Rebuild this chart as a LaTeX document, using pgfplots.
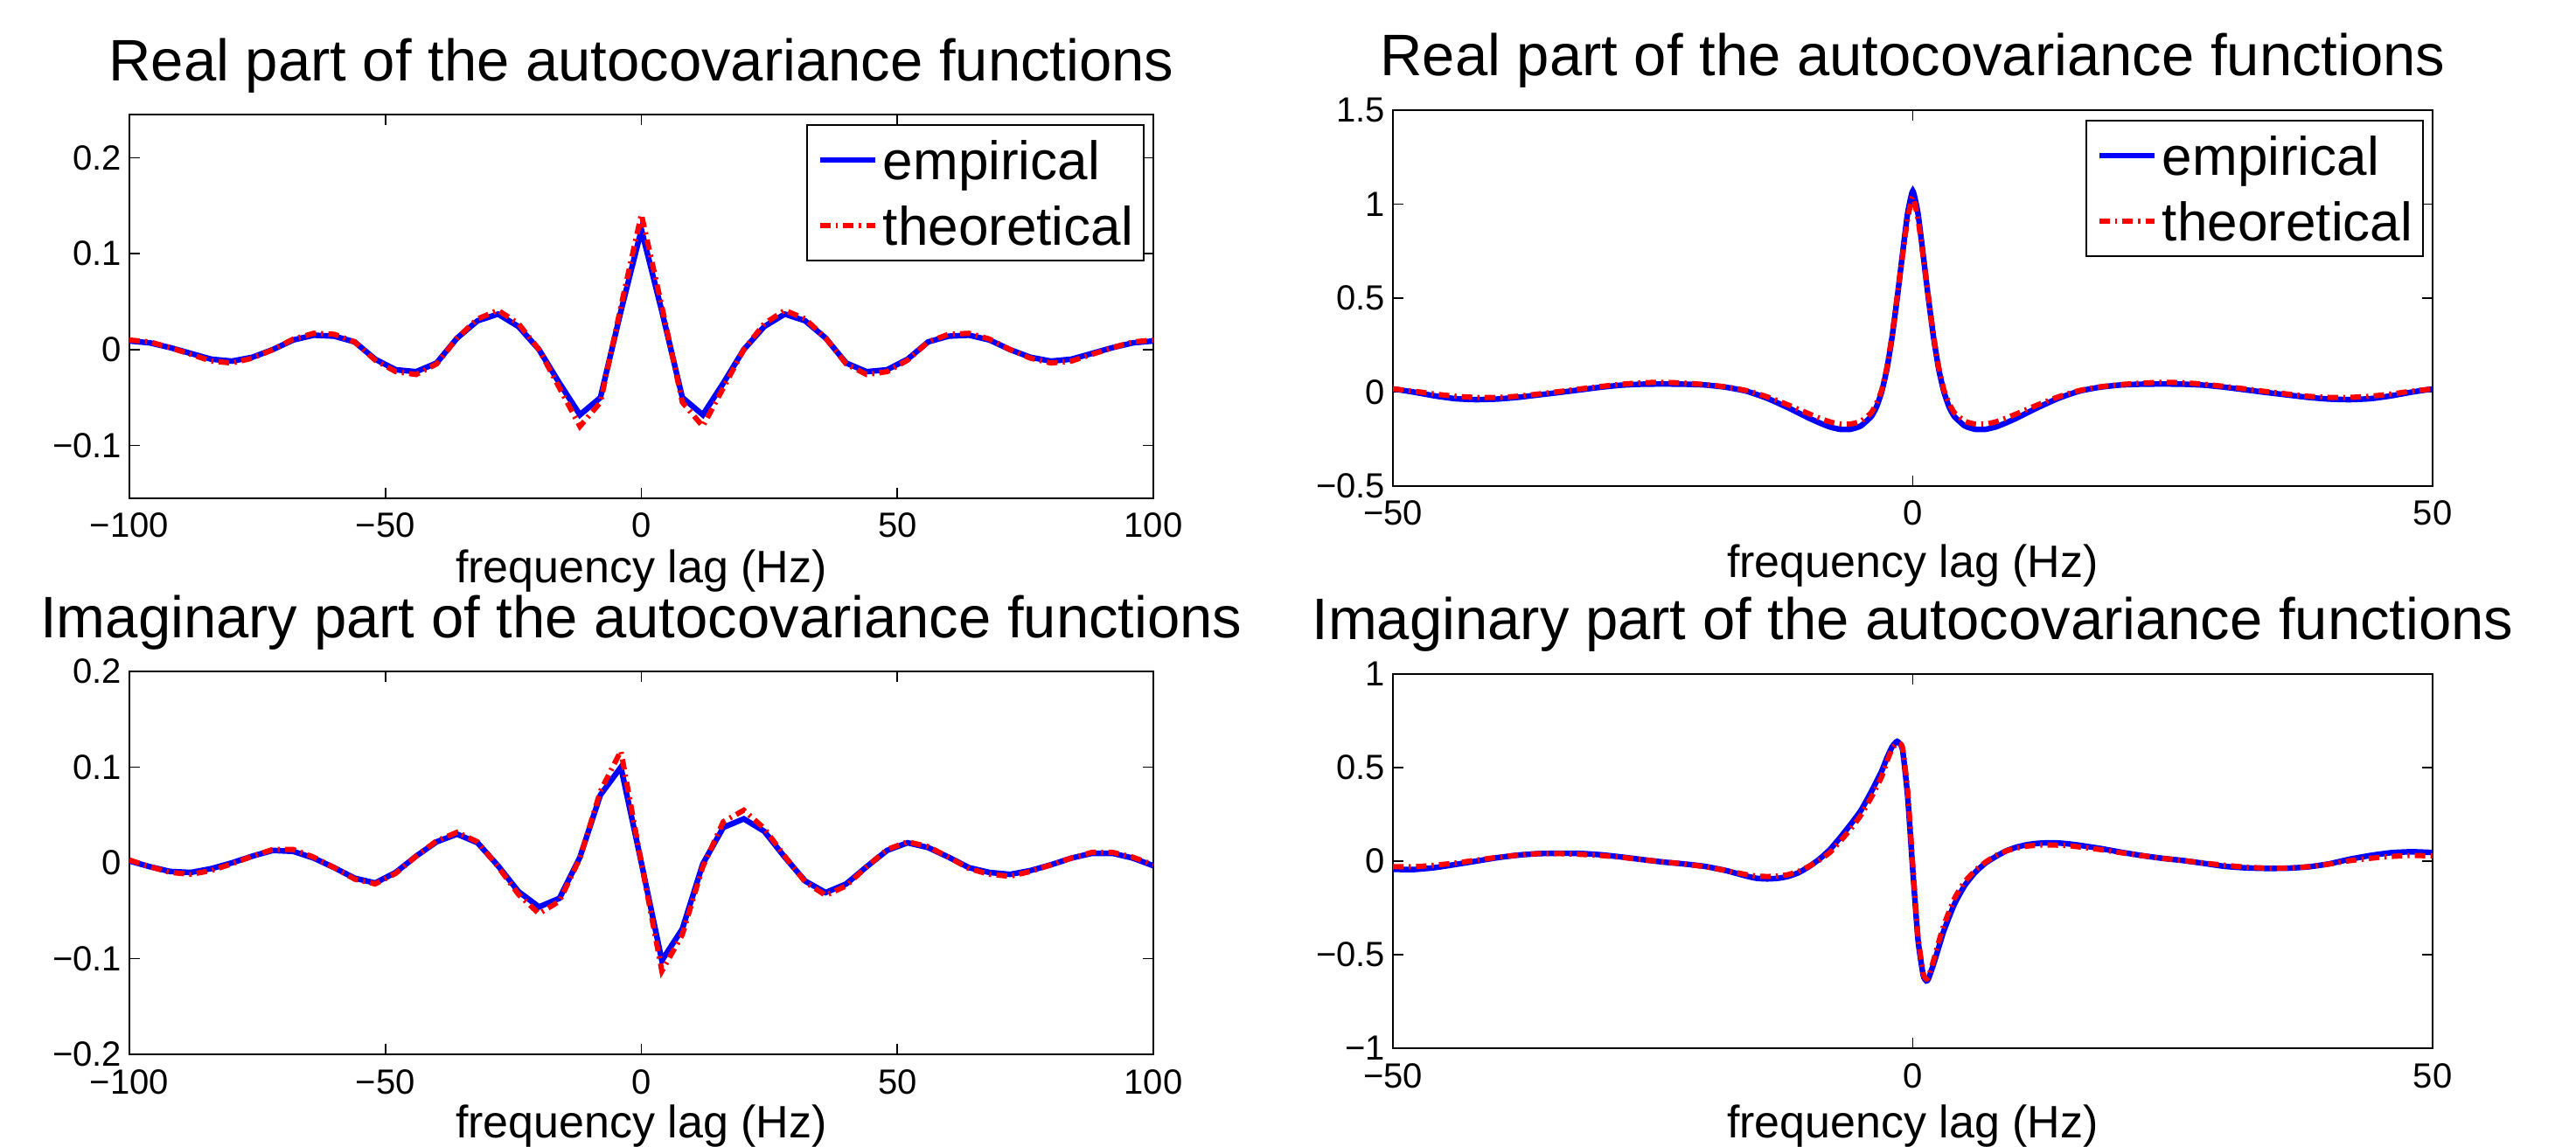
\documentclass[border=0pt]{standalone}
\usepackage{fontspec}
\setmainfont{Liberation Sans}
\usepackage{pgfplots}
\pgfplotsset{compat=1.18}
\newcommand\tickfont{\fontsize{10bp}{12bp}\selectfont}
\newcommand\titlefont{\fontsize{16.75bp}{20bp}\selectfont}
\newcommand\labelfont{\fontsize{13bp}{16bp}\selectfont}
\newcommand\legfont{\fontsize{15.5bp}{18bp}\selectfont}
\pgfplotsset{
  every axis title shift=0pt,
  mystyle/.style={
    scale only axis, anchor=south west,
    axis line style={line width=0.6bp, black},
    tick style={line width=0.4bp, black},
    major tick length=3bp,
    tick align=inside,
    xtick pos=both, ytick pos=both,
    xticklabel pos=lower, yticklabel pos=left,
    ticklabel style={font=\tickfont},
    xticklabel style={anchor=base, yshift=-11.25bp, inner sep=0pt},
    yticklabel style={anchor=east, xshift=-2bp, inner sep=0pt},
    title style={font=\titlefont, at={(axis description cs:0.5,1)}, anchor=base, yshift=9.75bp, inner sep=0pt},
    xlabel={frequency lag (Hz)},
    emp/.style={blue, line width=1.6bp},
    theo/.style={red, line width=1.5bp, dash pattern=on 3bp off 1.5bp on 0.6bp off 1.5bp},
  },
  myleg/.style={
    legend cell align=left,
    legend style={at={(axis description cs:1,1)}, anchor=north east, xshift=-2.5bp, yshift=-2.75bp,
      font=\legfont, draw=black, line width=0.5bp, fill=white,
      inner xsep=3bp, inner ysep=4.375bp, row sep=7.5bp, column sep=1.5bp,
      nodes={inner sep=0pt, text height=11.25bp, text depth=0pt}},
    legend image code/.code={\draw[##1] (0bp,0bp) -- (15.75bp,0bp);},
  },
}
\begin{document}
\begin{tikzpicture}
\useasboundingbox (0,0) rectangle (736.5bp,328bp);
% ---------------- top left
\begin{axis}[mystyle, myleg, at={(37bp,185.5bp)}, width=292.75bp, height=109.75bp,
  xmin=-100, xmax=100, ymin=-0.155, ymax=0.245,
  xtick={-100,-50,0,50,100}, xticklabels={−100,−50,0,50,100},
  ytick={-0.1,0,0.1,0.2}, yticklabels={−0.1,0,0.1,0.2},
  title={Real part of the autocovariance functions},
  xlabel style={font=\labelfont, at={(axis description cs:0.5,0)}, anchor=base, yshift=-24.25bp, inner sep=0pt}]
\addplot[emp] coordinates {
(-100,0.009) (-96,0.007) (-92,0.002) (-88,-0.004) (-84,-0.010) (-80,-0.012) (-76,-0.008) (-72,0.000)
(-68,0.010) (-64,0.015) (-60,0.014) (-56,0.008) (-52,-0.010) (-48,-0.021) (-44,-0.023) (-40,-0.014)
(-36,0.012) (-32,0.030) (-28,0.037) (-24,0.024) (-20,0.000) (-16,-0.035) (-12,-0.068) (-8,-0.050)
(-4,0.040) (0,0.125)
(4,0.040) (8,-0.050) (12,-0.068) (16,-0.035) (20,0.000) (24,0.024) (28,0.037) (32,0.030)
(36,0.012) (40,-0.014) (44,-0.023) (48,-0.021) (52,-0.010) (56,0.008) (60,0.014) (64,0.015)
(68,0.010) (72,0.000) (76,-0.008) (80,-0.012) (84,-0.010) (88,-0.004) (92,0.002) (96,0.007) (100,0.009)};
\addlegendentry{empirical}
\addplot[theo] coordinates {
(-100,0.010) (-96,0.008) (-92,0.002) (-88,-0.005) (-84,-0.012) (-80,-0.014) (-76,-0.009) (-72,0.000)
(-68,0.011) (-64,0.017) (-60,0.016) (-56,0.008) (-52,-0.011) (-48,-0.023) (-44,-0.026) (-40,-0.015)
(-36,0.012) (-32,0.032) (-28,0.041) (-24,0.027) (-20,0.000) (-16,-0.040) (-12,-0.080) (-8,-0.055)
(-4,0.045) (0,0.141)
(4,0.045) (8,-0.055) (12,-0.080) (16,-0.040) (20,0.000) (24,0.027) (28,0.041) (32,0.032)
(36,0.012) (40,-0.015) (44,-0.026) (48,-0.023) (52,-0.011) (56,0.008) (60,0.016) (64,0.017)
(68,0.011) (72,0.000) (76,-0.009) (80,-0.014) (84,-0.012) (88,-0.005) (92,0.002) (96,0.008) (100,0.010)};
\addlegendentry{theoretical}
\end{axis}
% ---------------- top right
\begin{axis}[mystyle, myleg, at={(398.25bp,189bp)}, width=297.25bp, height=107.5bp,
  xmin=-50, xmax=50, ymin=-0.5, ymax=1.5,
  xtick={-50,0,50}, xticklabels={−50,0,50},
  ytick={-0.5,0,0.5,1,1.5}, yticklabels={−0.5,0,0.5,1,1.5},
  title={Real part of the autocovariance functions},
  xlabel style={font=\labelfont, at={(axis description cs:0.5,0)}, anchor=base, yshift=-26.25bp, inner sep=0pt}]
\addplot[emp, smooth, tension=0.3] coordinates {
(-50,0.017) (-48,0.000) (-46,-0.020) (-44,-0.035) (-42,-0.040) (-40,-0.037) (-38,-0.028) (-36,-0.015)
(-34,-0.002) (-32,0.012) (-30,0.026) (-28,0.037) (-26,0.042) (-24,0.043) (-22,0.042) (-20,0.038)
(-18,0.026) (-16,0.005) (-14,-0.033) (-12,-0.083) (-10,-0.138) (-9,-0.163) (-8,-0.185) (-7,-0.198)
(-6,-0.198) (-5,-0.180) (-4,-0.130) (-3.5,-0.080) (-3,0.000) (-2.5,0.120) (-2,0.290) (-1.5,0.500)
(-1,0.730) (-0.5,0.950) (0,1.070)
(0.5,0.950) (1,0.730) (1.5,0.500) (2,0.290) (2.5,0.120) (3,0.000) (3.5,-0.080) (4,-0.130)
(5,-0.180) (6,-0.198) (7,-0.198) (8,-0.185) (9,-0.163) (10,-0.138) (12,-0.083) (14,-0.033)
(16,0.005) (18,0.026) (20,0.038) (22,0.042) (24,0.043) (26,0.042) (28,0.037) (30,0.026)
(32,0.012) (34,-0.002) (36,-0.015) (38,-0.028) (40,-0.037) (42,-0.040) (44,-0.035) (46,-0.020)
(48,0.000) (50,0.017)};
\addlegendentry{empirical}
\addplot[theo, smooth, tension=0.3] coordinates {
(-50,0.017) (-48,0.005) (-46,-0.010) (-44,-0.022) (-42,-0.028) (-40,-0.028) (-38,-0.022) (-36,-0.010)
(-34,0.003) (-32,0.017) (-30,0.030) (-28,0.042) (-26,0.050) (-24,0.052) (-22,0.048) (-20,0.040)
(-18,0.028) (-16,0.008) (-14,-0.025) (-12,-0.068) (-10,-0.115) (-9,-0.138) (-8,-0.158) (-7,-0.170)
(-6,-0.170) (-5,-0.155) (-4,-0.110) (-3.5,-0.060) (-3,0.010) (-2.5,0.130) (-2,0.300) (-1.5,0.510)
(-1,0.720) (-0.5,0.920) (0,1.040)
(0.5,0.920) (1,0.720) (1.5,0.510) (2,0.300) (2.5,0.130) (3,0.010) (3.5,-0.060) (4,-0.110)
(5,-0.155) (6,-0.170) (7,-0.170) (8,-0.158) (9,-0.138) (10,-0.115) (12,-0.068) (14,-0.025)
(16,0.008) (18,0.028) (20,0.040) (22,0.048) (24,0.052) (26,0.050) (28,0.042) (30,0.030)
(32,0.017) (34,0.003) (36,-0.010) (38,-0.022) (40,-0.028) (42,-0.028) (44,-0.022) (46,-0.010)
(48,0.005) (50,0.017)};
\addlegendentry{theoretical}
\end{axis}
% ---------------- bottom left
\begin{axis}[mystyle, at={(37bp,26.5bp)}, width=292.75bp, height=109.5bp,
  xmin=-100, xmax=100, ymin=-0.2, ymax=0.2,
  xtick={-100,-50,0,50,100}, xticklabels={−100,−50,0,50,100},
  ytick={-0.2,-0.1,0,0.1,0.2}, yticklabels={−0.2,−0.1,0,0.1,0.2},
  title={Imaginary part of the autocovariance functions},
  xlabel style={font=\labelfont, at={(axis description cs:0.5,0)}, anchor=base, yshift=-23.75bp, inner sep=0pt}]
\addplot[emp] coordinates {
(-100,0.002) (-96,-0.004) (-92,-0.009) (-88,-0.010) (-84,-0.006) (-80,0.000) (-76,0.007) (-72,0.013)
(-68,0.012) (-64,0.005) (-60,-0.005) (-56,-0.016) (-52,-0.021) (-48,-0.010) (-44,0.007) (-40,0.022)
(-36,0.030) (-32,0.021) (-28,-0.003) (-24,-0.030) (-20,-0.046) (-16,-0.037) (-12,0.006) (-8,0.071)
(-4,0.100) (0,0.000) (4,-0.102) (8,-0.069) (12,-0.001) (16,0.037) (20,0.046) (24,0.033)
(28,0.006) (32,-0.019) (36,-0.031) (40,-0.022) (44,-0.004) (48,0.013) (52,0.021) (56,0.016)
(60,0.006) (64,-0.005) (68,-0.010) (72,-0.012) (76,-0.008) (80,-0.002) (84,0.005) (88,0.010)
(92,0.010) (96,0.005) (100,-0.003)};
\addplot[theo] coordinates {
(-100,0.003) (-96,-0.004) (-92,-0.010) (-88,-0.012) (-84,-0.008) (-80,-0.001) (-76,0.007) (-72,0.014)
(-68,0.014) (-64,0.006) (-60,-0.005) (-56,-0.017) (-52,-0.022) (-48,-0.011) (-44,0.007) (-40,0.023)
(-36,0.032) (-32,0.022) (-28,-0.004) (-24,-0.033) (-20,-0.053) (-16,-0.040) (-12,0.005) (-8,0.075)
(-4,0.117) (0,0.000) (4,-0.113) (8,-0.075) (12,-0.004) (16,0.043) (20,0.055) (24,0.036)
(28,0.007) (32,-0.020) (36,-0.034) (40,-0.024) (44,-0.004) (48,0.014) (52,0.022) (56,0.017)
(60,0.006) (64,-0.006) (68,-0.012) (72,-0.014) (76,-0.009) (80,-0.002) (84,0.005) (88,0.011)
(92,0.011) (96,0.006) (100,-0.002)};
\end{axis}
% ---------------- bottom right
\begin{axis}[mystyle, at={(398.25bp,28.25bp)}, width=297.25bp, height=107bp,
  xmin=-50, xmax=50, ymin=-1, ymax=1,
  xtick={-50,0,50}, xticklabels={−50,0,50},
  ytick={-1,-0.5,0,0.5,1}, yticklabels={−1,−0.5,0,0.5,1},
  title={Imaginary part of the autocovariance functions},
  xlabel style={font=\labelfont, at={(axis description cs:0.5,0)}, anchor=base, yshift=-25.5bp, inner sep=0pt}]
\addplot[emp, smooth, tension=0.3] coordinates {
(-50,-0.044) (-48,-0.045) (-46,-0.035) (-44,-0.018) (-42,0.000) (-40,0.018) (-38,0.032) (-36,0.040)
(-34,0.042) (-32,0.041) (-30,0.034) (-28,0.022) (-26,0.008) (-24,-0.005) (-22,-0.015) (-20,-0.028)
(-18,-0.050) (-16,-0.080) (-15,-0.092) (-14,-0.095) (-13,-0.092) (-12,-0.082) (-11,-0.062) (-10,-0.030)
(-9,0.010) (-8,0.060) (-7,0.125) (-6,0.195) (-5,0.270) (-4,0.370) (-3,0.480) (-2.5,0.550)
(-2,0.610) (-1.5,0.640) (-1,0.600) (-0.5,0.350) (0,-0.050) (0.5,-0.420) (1,-0.610) (1.3,-0.640)
(1.5,-0.630) (2,-0.550) (2.5,-0.460) (3,-0.370) (4,-0.230) (5,-0.130) (6,-0.060) (7,-0.010)
(8,0.025) (9,0.055) (10,0.075) (11,0.088) (12,0.095) (13,0.098) (14,0.097) (15,0.092)
(16,0.085) (18,0.068) (20,0.048) (22,0.030) (24,0.015) (26,0.003) (28,-0.012) (30,-0.028)
(32,-0.036) (34,-0.039) (36,-0.038) (38,-0.031) (40,-0.015) (42,0.010) (44,0.030) (46,0.045)
(48,0.050) (50,0.046)};
\addplot[theo, smooth, tension=0.3] coordinates {
(-50,-0.030) (-48,-0.030) (-46,-0.022) (-44,-0.010) (-42,0.005) (-40,0.020) (-38,0.032) (-36,0.040)
(-34,0.040) (-32,0.036) (-30,0.030) (-28,0.020) (-26,0.008) (-24,-0.004) (-22,-0.015) (-20,-0.030)
(-18,-0.050) (-16,-0.072) (-15,-0.080) (-14,-0.082) (-13,-0.080) (-12,-0.072) (-11,-0.055) (-10,-0.028)
(-9,0.005) (-8,0.045) (-7,0.105) (-6,0.170) (-5,0.245) (-4,0.340) (-3,0.450) (-2.5,0.530)
(-2,0.600) (-1.5,0.630) (-1,0.610) (-0.5,0.380) (0,-0.020) (0.5,-0.400) (1,-0.600) (1.3,-0.630)
(1.5,-0.620) (2,-0.530) (2.5,-0.430) (3,-0.340) (4,-0.200) (5,-0.110) (6,-0.050) (7,-0.005)
(8,0.030) (9,0.055) (10,0.070) (11,0.080) (12,0.085) (13,0.086) (14,0.085) (15,0.082)
(16,0.076) (18,0.062) (20,0.045) (22,0.030) (24,0.015) (26,0.003) (28,-0.010) (30,-0.022)
(32,-0.032) (34,-0.037) (36,-0.037) (38,-0.030) (40,-0.016) (42,0.002) (44,0.015) (46,0.025)
(48,0.030) (50,0.028)};
\end{axis}
\end{tikzpicture}
\end{document}
